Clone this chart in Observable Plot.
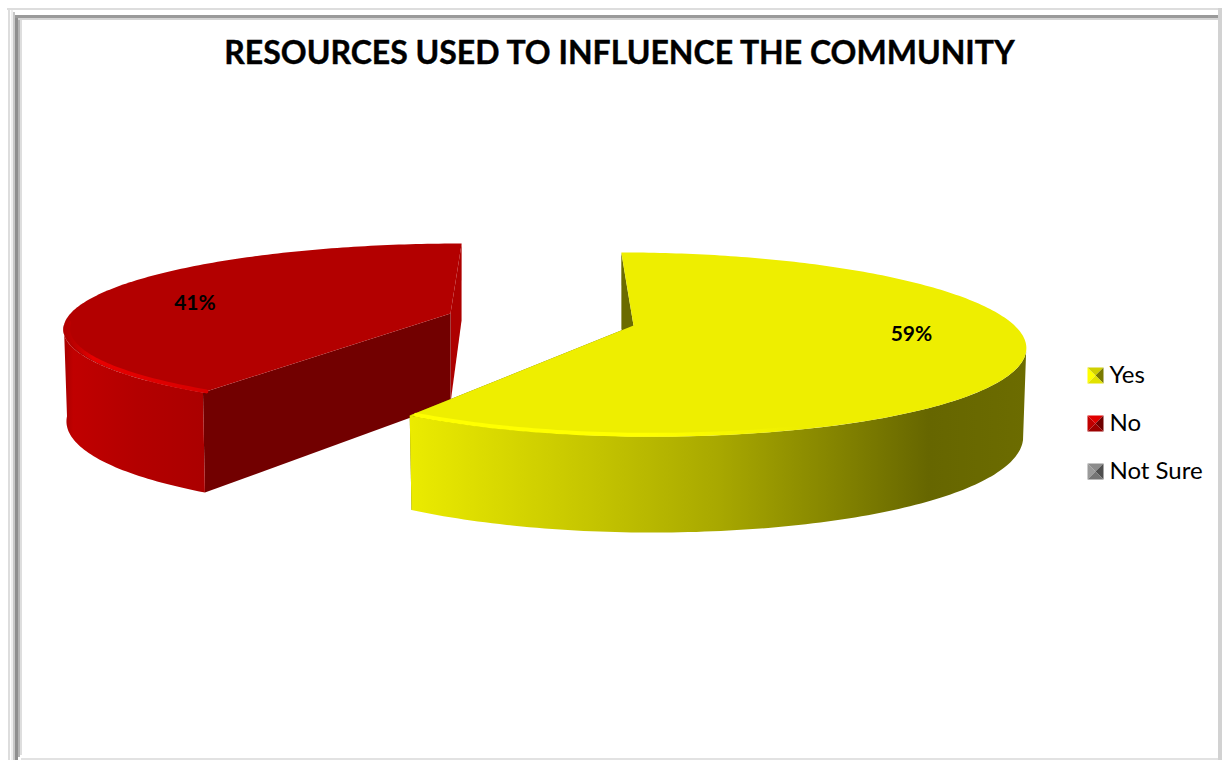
<!DOCTYPE html>
<html>
<head>
<meta charset="utf-8">
<script src="https://cdn.jsdelivr.net/npm/d3@7"></script>
<script src="https://cdn.jsdelivr.net/npm/@observablehq/plot@0.6"></script>
<style>
  html, body { margin: 0; padding: 0; background: #fff; }
  svg { display: block; }
</style>
</head>
<body>
<div id="chart"></div>
<script>
// Survey answers
const titleText = "RESOURCES USED TO INFLUENCE THE COMMUNITY";
const categories = ["Yes", "No", "Not Sure"];
const percents = [59, 41, 0];

const W = 1223, H = 760;

// Perspective settings of each drawn wedge (the "No" wedge is pulled out of the pie).
// R and Rl stretch the right and left halves; side and rim are the angle spans of the
// visible outer wall and of its highlighted top edge.
const cameras = {
  Yes: {x0: 633, y0: 325, R: 381, Rl: 368, s: 116, b: -21, c: 0.2065, d0: 86, d1: 10,
        side: [106, 360], rim: [138, 360], labelR: 0.72, labelDy: -10},
  No:  {x0: 450, y0: 313, R: 380, Rl: 380, s: 84, b: -31.6, c: 0.158, d0: 89.5, d1: 12.5,
        side: [0, 262], rim: [0, 264], labelR: 0.73, labelDy: 6}
};

const colours = {
  Yes: {top: "#eeee00", side: "url(#yesSide)", rim: "url(#yesRim)", wall: "#6b6b00", wall2: "#6b6b00",
        bevel: ["#ffff00", "#d0d000", "#7a7a00", "#e2e200"]},
  No:  {top: "#b30000", side: "url(#noSide)", rim: "url(#noRim)", wall: "#720000", wall2: "#ad0000",
        bevel: ["#c00000", "#e00000", "#6e0000", "#9c0000"]},
  "Not Sure": {bevel: ["#9a9a9a", "#8c8c8c", "#4f4f4f", "#757575"]}
};

// Project a point of the unit disc (angle in degrees clockwise from the back) onto the page
function project(cam, deg, r = 1, lowered = false) {
  const a = deg * Math.PI / 180;
  const u = r * Math.sin(a), v = r * Math.cos(a);
  const w = 1 + cam.c * v;
  let x = (cam.x0 + (u < 0 ? cam.Rl : cam.R) * u + cam.s * v) / w;
  let y = (cam.y0 + cam.b * v) / w;
  if (lowered) {
    y += cam.d0 - cam.d1 * v;
    x += (cam.x0 - x) * 0.008;
  }
  return {x, y};
}

function arc(cam, from, to, lowered) {
  const n = Math.max(2, Math.ceil(Math.abs(to - from)));
  return d3.range(n + 1).map(i => project(cam, from + (to - from) * i / n, 1, lowered));
}

// Wedge angles come straight from the percentages
const total = d3.sum(percents);
let running = 0;
const wedges = categories.map((name, i) => {
  const start = running / total * 360;
  running += percents[i];
  return {name, value: percents[i], start, end: running / total * 360};
}).filter(d => d.value > 0);

function wedgeMarks(w) {
  const cam = cameras[w.name], col = colours[w.name];
  const apexTop = project(cam, 0, 0), apexLow = project(cam, 0, 0, true);
  const sideFrom = Math.max(w.start, cam.side[0]), sideTo = Math.min(w.end, cam.side[1]);
  const side = [...arc(cam, sideFrom, sideTo, false), ...arc(cam, sideTo, sideFrom, true)];
  const top = [apexTop, ...arc(cam, w.start, w.end, false)];
  // Radial cut faces: one at the opening edge, one at the closing edge
  const wallStart = [apexTop, project(cam, w.start), project(cam, w.start, 1, true), apexLow];
  const wallEnd = [apexTop, project(cam, w.end), project(cam, w.end, 1, true), apexLow];
  // The highlight runs just inside the top face's front edge
  const rimFrom = Math.max(w.start, cam.rim[0]), rimTo = Math.min(w.end, cam.rim[1]);
  const rimSteps = d3.range(Math.ceil(Math.abs(rimTo - rimFrom)) + 1);
  const rim = rimSteps.map(i => project(cam, Math.min(rimFrom + i, rimTo - 0.5), 0.988));
  const poly = (pts, fill) => Plot.line(pts, {x: "x", y: "y", fill, stroke: "none", curve: "linear"});
  const startFirst = w.name === "Yes"
    ? [poly(wallStart, col.wall2), poly(wallEnd, col.wall)]
    : [poly(wallEnd, col.wall2), poly(wallStart, col.wall)];
  return [
    ...startFirst,
    poly(side, col.side),
    poly(top, col.top),
    Plot.line(rim, {x: "x", y: "y", stroke: col.rim, strokeWidth: 4})
  ];
}

// Shaded gradients for the pie's outer wall and its bevelled top edge
function gradients() {
  const defs = d3.create("svg:defs");
  const grad = (id, x1, x2, stops) => {
    const g = defs.append("linearGradient").attr("id", id)
      .attr("gradientUnits", "userSpaceOnUse")
      .attr("x1", x1).attr("x2", x2).attr("y1", 0).attr("y2", 0);
    stops.forEach(([o, c, a = 1]) => g.append("stop").attr("offset", o).attr("stop-color", c).attr("stop-opacity", a));
  };
  grad("yesSide", 410, 1027, [[0, "#ebeb00"], [0.3, "#c4c400"], [0.5, "#a8a800"], [0.7, "#828200"], [0.84, "#666600"], [1, "#6c6c00"]]);
  grad("noSide", 64, 210, [[0, "#a80000"], [0.06, "#c00000"], [0.5, "#b30000"], [1, "#aa0000"]]);
  grad("yesRim", 410, 800, [[0, "#ffff00", 1], [0.6, "#ffff00", 1], [1, "#ffff00", 0]]);
  grad("noRim", 64, 205, [[0, "#c80000", 0], [0.2, "#e80000", 1], [1, "#d80000", 1]]);
  return defs.node();
}

// Picture-frame bevel drawn around the chart area
const frameBands = [
  {x1: 7, x2: 1221, y1: 8, y2: 10, c: "#dddddd"},
  {x1: 8, x2: 10, y1: 8, y2: 760, c: "#dddddd"},
  {x1: 11, x2: 13, y1: 10, y2: 760, c: "#efefef"},
  {x1: 13, x2: 15, y1: 12, y2: 760, c: "#c8c8c8"},
  {x1: 15, x2: 18, y1: 15, y2: 760, c: "#8f8f8f"},
  {x1: 18, x2: 20, y1: 16, y2: 757, c: "#b4b4b4"},
  {x1: 20, x2: 22, y1: 18, y2: 755, c: "#dedede"},
  {x1: 15, x2: 1218, y1: 15, y2: 18, c: "#9a9a9a"},
  {x1: 18, x2: 1218, y1: 18, y2: 20, c: "#d4d4d4"},
  {x1: 1218, x2: 1222, y1: 8, y2: 760, c: "#d2d2d2"},
  {x1: 21, x2: 1218, y1: 758, y2: 760, c: "#e2e2e2"}
];

// Legend rows with bevelled square keys
const legendX = 1087, legendSize = 16, legendTextX = 1109;
const legendYs = [367, 415, 463];
const legendRows = categories.map((name, i) => ({name, y: legendYs[i]}));

const bevels = legendRows.flatMap(({name, y}) => {
  const a = {x: legendX, y}, b = {x: legendX + legendSize, y},
        c = {x: legendX + legendSize, y: y + legendSize}, d = {x: legendX, y: y + legendSize},
        m = {x: legendX + legendSize / 2, y: y + legendSize / 2};
  const tris = [[a, m, d], [a, b, m], [b, c, m], [d, m, c]];
  return tris.flatMap((t, k) => t.map(p => ({...p, key: `${name}-${k}`, fill: colours[name].bevel[k]})));
});

const labelRows = wedges.map(w => {
  const cam = cameras[w.name];
  const p = project(cam, (w.start + w.end) / 2, cam.labelR);
  return {x: p.x, y: p.y + cam.labelDy, text: `${w.value}%`};
});

const font = "Lato, 'Noto Sans', sans-serif";

const chart = Plot.plot({
  width: W, height: H,
  margin: 0,
  x: {domain: [0, W], range: [0, W], axis: null},
  y: {domain: [0, H], range: [0, H], axis: null},
  color: {type: "identity"},
  style: {background: "#fff", fontFamily: font},
  marks: [
    gradients,
    Plot.rect(frameBands, {x1: "x1", x2: "x2", y1: "y1", y2: "y2", fill: "c"}),
    // The pulled-out wedge goes first so the large wedge overlaps it
    ...wedges.slice().reverse().flatMap(wedgeMarks),
    Plot.text(labelRows, {x: "x", y: "y", text: "text", fontSize: 21, fontWeight: 700, fill: "#000", fontFamily: font}),
    Plot.text([titleText], {x: () => 619, y: () => 53, text: d => d, fontSize: 32, fontWeight: 700, fill: "#000", stroke: "#000", strokeWidth: 0.4, fontFamily: font}),
    Plot.line(bevels, {x: "x", y: "y", z: "key", fill: "fill", stroke: "none", curve: "linear"}),
    Plot.text(legendRows, {x: () => legendTextX, y: d => d.y + 8, text: "name", textAnchor: "start", fontSize: 24, fill: "#000", fontFamily: font})
  ]
});

document.getElementById("chart").append(chart);
</script>
</body>
</html>
